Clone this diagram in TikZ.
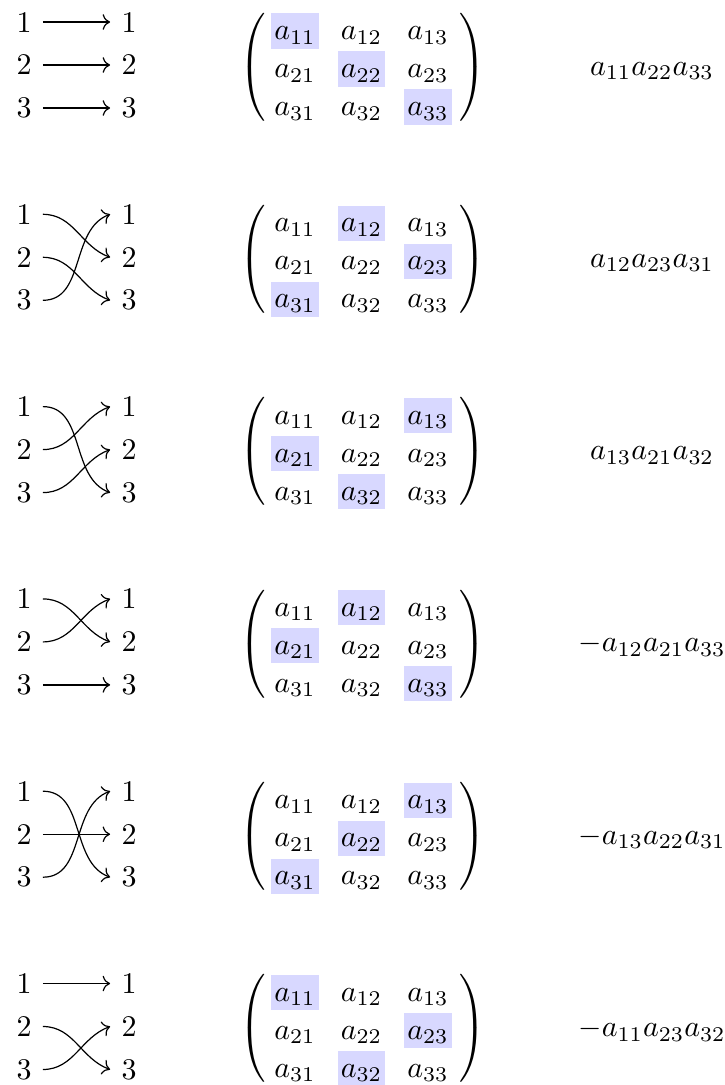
\documentclass[tikz,border=0pt]{standalone}
\usetikzlibrary{cd}
\definecolor{hl}{RGB}{216,216,255}
\begin{document}
\begin{tikzpicture}[x=0.3333pt,y=-0.3333pt,
  num/.style={inner xsep=3.6pt, inner ysep=0pt},
  ent/.style={anchor=base, inner xsep=1pt, inner ysep=0pt, text height=8.7pt, text depth=3pt},
  arr/.style={->, >={cm to}, line width=0.4pt},
  paren/.style={inner sep=0pt, anchor=base},
  prod/.style={anchor=base, inner sep=0pt}]
\useasboundingbox (0,0) rectangle (725,1085);
\foreach \k/\pa/\pb/\pc/\sg in {0/1/2/3/{},1/2/3/1/{},2/3/1/2/{},3/2/1/3/-,4/3/2/1/-,5/1/3/2/-}{
  \pgfmathsetmacro\B{192.3*\k}
  % left permutation diagram
  \foreach \i in {1,2,3}{
    \node[num] (L\k-\i) at (24,\B+22+43*\i-43) {\i};
    \node[num] (R\k-\i) at (129,\B+22+43*\i-43) {\i};
  }
  \foreach \i/\j in {1/\pa,2/\pb,3/\pc}{
    \pgfmathsetmacro\inang{ifthenelse(\j>\i,160,ifthenelse(\j<\i,200,180))}
    \draw[arr] (L\k-\i.east) to[out=0,in=\inang] (R\k-\j.west);
  }
  % matrix
  \node[paren] (Pl\k) at (252.5,\B+74.5) {\smash{$\left(\vcenter{\hbox{\vrule height 18.5pt depth 18.5pt width 0pt}}\right.\kern-\nulldelimiterspace$}};
  \node[paren] (Pr\k) at (472.5,\B+74.5) {\smash{$\kern-\nulldelimiterspace\left.\vcenter{\hbox{\vrule height 18.5pt depth 18.5pt width 0pt}}\right)$}};
  \foreach \r/\h in {1/\pa,2/\pb,3/\pc}{
    \foreach \c in {1,2,3}{
      \ifnum\c=\h\relax\def\fc{hl}\else\def\fc{none}\fi
      \node[ent, fill=\fc] (M\k-\r\c) at (295+66.5*\c-66.5,\B+39.5+38*\r-38) {$a_{\r\c}$};
    }
  }
  % product
  \node[prod] (T\k) at (652,\B+75) {$\sg a_{1\pa}a_{2\pb}a_{3\pc}$};
}
\end{tikzpicture}
\end{document}
